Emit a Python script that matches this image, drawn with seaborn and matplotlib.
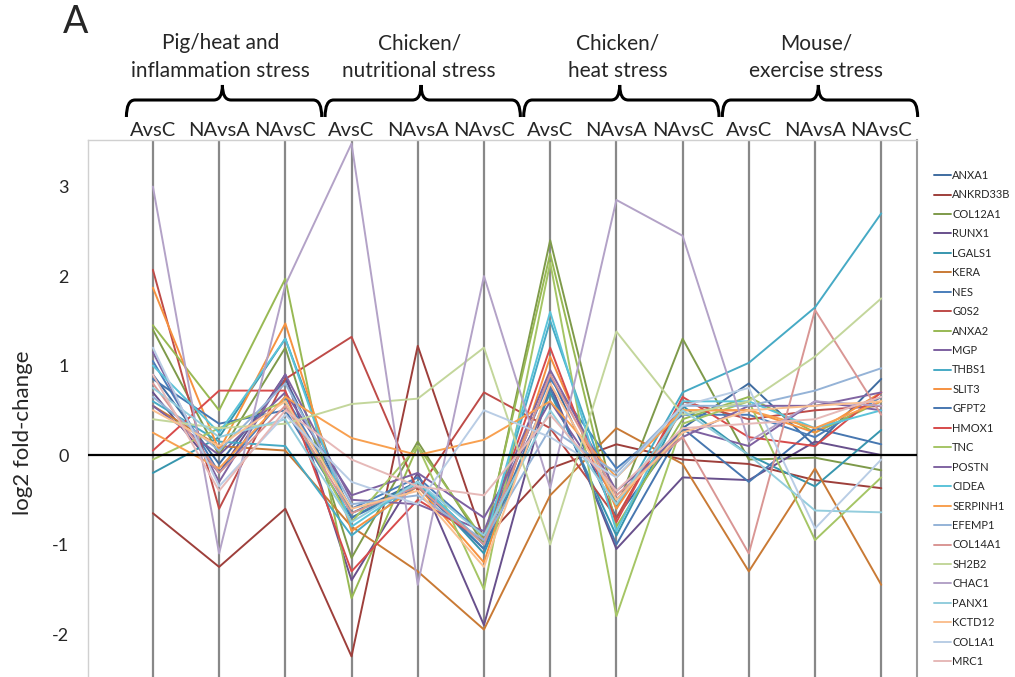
import numpy as np
import pandas as pd
import matplotlib
matplotlib.use("Agg")
import matplotlib.pyplot as plt
import matplotlib.transforms as mtransforms
from matplotlib.path import Path
from matplotlib.patches import PathPatch
import seaborn as sns

# comparisons (x axis) and stress groups
comparisons = ["AvsC", "NAvsA", "NAvsC"] * 4
groups = [("Pig/heat and", "inflammation stress"),
          ("Chicken/", "nutritional stress"),
          ("Chicken/", "heat stress"),
          ("Mouse/", "exercise stress")]

genes = ["ANXA1", "ANKRD33B", "COL12A1", "RUNX1", "LGALS1", "KERA", "NES", "G0S2",
         "ANXA2", "MGP", "THBS1", "SLIT3", "GFPT2", "HMOX1", "TNC", "POSTN", "CIDEA",
         "SERPINH1", "EFEMP1", "COL14A1", "SH2B2", "CHAC1", "PANX1", "KCTD12",
         "COL1A1", "MRC1"]

gene_colors = ["#3F6CA0", "#9E3F3B", "#7E9A4A", "#68508C", "#3796AE", "#C97A35",
               "#4A7EBB", "#BE4B48", "#98B954", "#7D60A0", "#46AAC5", "#F69240",
               "#4777B0", "#D74B4B", "#A5C565", "#8064A2", "#5BC3D9", "#F8A050",
               "#95B3D7", "#D99694", "#C3D69B", "#B3A2C7", "#93CDDD", "#FAC090",
               "#B9CDE5", "#E6B9B8"]

# log2 fold-change per gene, 12 comparisons (pig, chicken nutr., chicken heat, mouse)
ANXA1    = [0.90, -0.10, 0.85, -0.65, -0.30, -1.00, 0.90, -0.70, 0.30, 0.80, 0.10, 0.85]
ANKRD33B = [-0.65, -1.25, -0.60, -2.25, 1.22, -0.95, -0.15, 0.12, -0.05, -0.10, -0.28, -0.37]
COL12A1  = [1.40, 0.00, 1.20, -1.15, 0.15, -1.00, 2.40, -0.60, 1.30, -0.05, -0.03, -0.17]
RUNX1    = [0.70, -0.20, 0.90, -1.40, -0.20, -1.90, 0.80, -1.05, -0.25, -0.28, 0.15, 0.00]
LGALS1   = [-0.20, 0.20, 1.30, -0.70, -0.30, -1.10, 0.70, -0.90, 0.55, 0.00, -0.35, 0.28]
KERA     = [0.55, 0.10, 0.05, -0.80, -1.30, -1.95, -0.45, 0.30, -0.10, -1.30, -0.15, -1.45]
NES      = [1.05, -0.20, 0.65, -0.60, -0.25, -0.90, 0.85, -0.15, 0.45, 0.45, 0.20, 0.65]
G0S2     = [2.07, -0.60, 0.85, 1.32, -0.40, 0.70, 0.30, -0.70, 0.60, 0.40, 0.50, 0.55]
ANXA2    = [1.45, 0.50, 1.97, -1.60, 0.10, -0.95, 2.25, -0.80, 0.40, 0.65, 0.25, 0.60]
MGP      = [0.55, 0.00, 0.70, -0.45, -0.20, -0.70, 0.60, -0.50, 0.30, 0.10, 0.60, 0.50]
THBS1    = [0.60, 0.15, 0.10, -0.90, -0.30, -1.05, 1.50, -0.60, 0.70, 1.03, 1.65, 2.70]
SLIT3    = [1.87, 0.05, 1.47, -0.85, -0.35, -1.20, 1.10, -0.60, 0.50, 0.50, 0.25, 0.70]
GFPT2    = [0.85, 0.35, 0.50, -0.70, -0.35, -1.05, 0.75, -1.00, 0.30, -0.30, 0.30, 0.12]
HMOX1    = [0.05, 0.72, 0.72, -1.30, -0.50, -0.95, 1.20, -0.75, 0.65, 0.20, 0.10, 0.70]
TNC      = [-0.05, 0.30, 0.60, -0.75, 0.10, -1.50, 2.15, -1.80, 0.35, 0.60, -0.95, -0.25]
POSTN    = [1.15, -0.30, 0.90, -0.50, -0.55, -0.85, 0.95, -0.40, 0.20, 0.55, 0.55, 0.70]
CIDEA    = [1.00, 0.25, 1.30, -0.80, -0.30, -1.00, 1.60, -0.85, 0.60, 0.60, 0.30, 0.50]
SERPINH1 = [0.25, -0.15, 0.65, 0.19, 0.00, 0.17, 0.60, -0.25, 0.50, 0.50, 0.30, 0.60]
EFEMP1   = [0.65, 0.05, 0.80, -0.55, -0.45, -0.95, 0.30, -0.20, 0.55, 0.55, 0.72, 0.97]
COL14A1  = [0.80, -0.20, 0.55, -0.65, -0.35, -1.00, 0.90, -0.45, 0.20, -1.10, 1.62, 0.45]
SH2B2    = [0.40, 0.30, 0.35, 0.57, 0.63, 1.20, -1.00, 1.38, 0.45, 0.60, 1.10, 1.75]
CHAC1    = [3.00, -1.10, 1.90, 3.48, -1.45, 2.00, -0.37, 2.85, 2.45, 0.15, 0.60, 0.55]
PANX1    = [0.75, 0.20, 0.40, -0.75, -0.30, -0.90, 0.50, -0.55, 0.50, 0.00, -0.62, -0.64]
KCTD12   = [0.50, 0.10, 0.60, -0.60, -0.40, -1.25, 0.80, -0.50, 0.25, 0.50, 0.55, 0.60]
COL1A1   = [1.20, -0.35, 0.45, -0.30, -0.55, 0.50, 0.20, -0.25, 0.55, 0.75, -0.82, -0.05]
MRC1     = [0.90, -0.40, 0.50, -0.05, -0.35, -0.45, 0.45, -0.40, 0.30, 0.35, 0.40, 0.65]

series = [ANXA1, ANKRD33B, COL12A1, RUNX1, LGALS1, KERA, NES, G0S2, ANXA2, MGP,
          THBS1, SLIT3, GFPT2, HMOX1, TNC, POSTN, CIDEA, SERPINH1, EFEMP1, COL14A1,
          SH2B2, CHAC1, PANX1, KCTD12, COL1A1, MRC1]

rows = []
for g, vals in zip(genes, series):
    for i, v in enumerate(vals):
        rows.append({"gene": g, "pos": i, "value": v})
df = pd.DataFrame(rows)

sns.set_theme(style="white")
plt.rcParams["font.family"] = ["Lato", "DejaVu Sans"]

W, H = 1015, 677
fig = plt.figure(figsize=(W / 100, H / 100), dpi=100)
ax = fig.add_axes([88 / W, 0, 829 / W, 537 / H])

# grey vertical guide at each comparison
for i in range(len(comparisons)):
    ax.axvline(i, color="#888888", lw=1.6, zorder=0)

sns.lineplot(data=df, x="pos", y="value", hue="gene", hue_order=genes,
             palette=dict(zip(genes, gene_colors)), estimator=None, sort=False,
             lw=1.4, ax=ax)

ax.axhline(0, color="black", lw=1.6, zorder=5)

ax.set_xlim(-0.98, 11.54)
ax.set_ylim(-2.48, 3.52)

ax.xaxis.tick_top()
ax.set_xticks(range(len(comparisons)))
ax.set_xticklabels(comparisons, fontsize=14.5)
ax.set_yticks([-2, -1, 0, 1, 2, 3])
ax.set_yticklabels(["-2", "-1", "0", "1", "2", "3"], fontsize=13)
ax.tick_params(axis="x", length=0, pad=1)
ax.tick_params(axis="y", length=0, pad=14)
ax.set_xlabel("")
ax.set_ylabel("")

ax.spines["bottom"].set_visible(False)
ax.spines["left"].set_color("#D0D0D0")
ax.spines["left"].set_linewidth(1.0)
ax.spines["top"].set_color("#D0D0D0")
ax.spines["top"].set_linewidth(1.0)
ax.spines["right"].set_color("#9A9A9A")
ax.spines["right"].set_linewidth(1.5)

fig.text(23 / W, 1 - 433 / H, "log2 fold-change", rotation=90, fontsize=16,
         ha="center", va="center")
fig.text(76 / W, 1 - 22 / H, "A", fontsize=27, ha="center", va="center")

# group braces and titles
trans = mtransforms.blended_transform_factory(ax.transData, fig.transFigure)
y_end, y_h, y_tip = 1 - 117 / H, 1 - 100 / H, 1 - 85 / H
rx = 0.13
for k, (l1, l2) in enumerate(groups):
    x0, x1, xc = 3 * k - 0.4, 3 * k + 2.55, 3 * k + 1.05
    verts = [(x0, y_end), (x0, y_h), (x0 + rx, y_h),
             (xc - rx, y_h), (xc, y_h), (xc, y_tip),
             (xc, y_h), (xc + rx, y_h),
             (x1 - rx, y_h), (x1, y_h), (x1, y_end)]
    codes = [Path.MOVETO, Path.CURVE3, Path.CURVE3,
             Path.LINETO, Path.CURVE3, Path.CURVE3,
             Path.CURVE3, Path.CURVE3,
             Path.LINETO, Path.CURVE3, Path.CURVE3]
    patch = PathPatch(Path(verts, codes), transform=trans, fill=False,
                      lw=2.2, edgecolor="black", clip_on=False)
    fig.add_artist(patch)
    ax.text(3 * k + 1.02, 1 - 43 / H, l1, transform=trans, fontsize=15,
            ha="center", va="center")
    ax.text(3 * k + 1.02, 1 - 71 / H, l2, transform=trans, fontsize=15,
            ha="center", va="center")

handles, labels = ax.get_legend_handles_labels()
ax.legend(handles, labels, loc="upper left", bbox_to_anchor=(934 / W, 1 - 170 / H),
          bbox_transform=fig.transFigure, frameon=False, borderaxespad=0,
          borderpad=0, handlelength=1.5, handletextpad=0.15, fontsize=8,
          labelspacing=0.76)

fig.savefig("out.png", dpi=100)
